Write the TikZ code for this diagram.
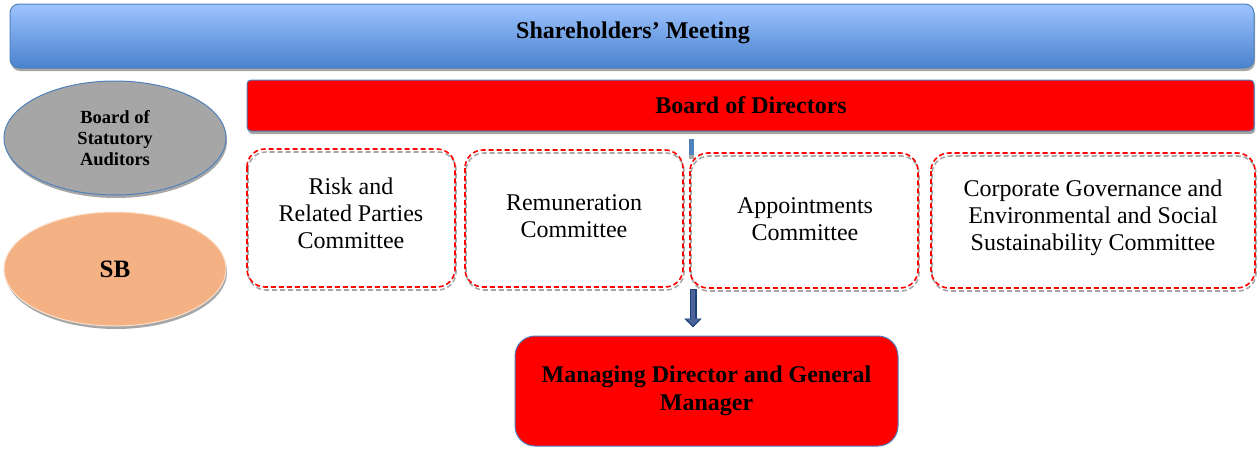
\documentclass[tikz,border=0pt]{standalone}
\usepackage{fontspec}
\setmainfont{Liberation Serif}
\usetikzlibrary{shadows,shapes.geometric,arrows.meta}
\definecolor{topblue}{HTML}{9DC3FF}
\definecolor{botblue}{HTML}{4A82CC}
\definecolor{edgeblue}{HTML}{4F81BD}
\definecolor{auditgray}{HTML}{A6A6A6}
\definecolor{sborange}{HTML}{F4B183}
\definecolor{arrowblue}{HTML}{1F3F7F}
\tikzset{
  shd/.style={drop shadow={shadow xshift=1pt,shadow yshift=-3pt,fill=black!35,opacity=1}},
  topbox/.style={draw=edgeblue,line width=1pt,rounded corners=9pt,top color=topblue,bottom color=botblue,shd},
  redbox/.style={draw=edgeblue,line width=1pt,fill=red,shd},
  oval/.style={ellipse,line width=1pt,shd},
  combox/.style={draw=red,dash pattern=on 5pt off 3pt,line width=1.6pt,rounded corners=18pt},
  comshadow/.style={draw=black!35,dash pattern=on 5pt off 3pt,line width=1.6pt,rounded corners=18pt},
  comtext/.style={align=center,font=\fontsize{24}{27}\selectfont},
  boldtext/.style={align=center,font=\fontsize{24}{28}\selectfont\bfseries},
}
\begin{document}
\begin{tikzpicture}[x=1pt,y=-1pt]
\useasboundingbox (0,0) rectangle (1257,450);
% Shareholders
\path[topbox] (10,4) rectangle (1254,68);
\node[boldtext] (sh) at (633,33) {Shareholders’ Meeting};
% Board of directors
\path[redbox,rounded corners=4pt] (247,80) rectangle (1254,131);
\node[boldtext] (bod) at (751,105) {Board of Directors};
% ellipses
\node[oval,draw=edgeblue,fill=auditgray,minimum width=222pt,minimum height=114pt,
  align=center,font=\fontsize{18.5}{21}\selectfont\bfseries] (bsa) at (115,138) {Board of\\Statutory\\Auditors};
\node[oval,draw=sborange!40,fill=sborange,minimum width=222pt,minimum height=114pt,
  font=\fontsize{25}{26}\selectfont\bfseries] (sb) at (115,269) {SB};
% committees
\draw[comshadow] (248,152) rectangle (456,290);
\draw[combox] (247,149) rectangle (455,287);
\node[comtext] (c1) at (351,213) {Risk and\\Related Parties\\Committee};
\draw[comshadow] (466,153) rectangle (684,290);
\draw[combox] (465,150) rectangle (683,287);
\node[comtext] (c2) at (574,216) {Remuneration\\Committee};
\draw[comshadow] (691,156) rectangle (919,291);
\draw[combox] (690,153) rectangle (918,288);
\node[comtext] (c3) at (805,219) {Appointments\\Committee};
\draw[comshadow] (932,156) rectangle (1256,291);
\draw[combox] (931,153) rectangle (1255,288);
\node[comtext] (c4) at (1093,218) {Corporate Governance and\\Environmental and Social\\Sustainability Committee};
% tick connector
\coordinate (tk1) at (691,139);
\coordinate (tk2) at (691,155);
\draw[line width=5pt,edgeblue] (tk1) -- ([yshift=-4pt]tk2);
\draw[line width=5pt,black!35] ([yshift=-4pt]tk2) -- (tk2);
% Managing director
\node[draw=edgeblue,line width=1pt,fill=red,rounded corners=20pt,minimum width=383pt,minimum height=110pt,
  boldtext] (md) at (706.5,391) {Managing Director and General\\Manager};
% arrow
\coordinate (a1) at (693,289);
\draw[-{Triangle[length=9pt,width=17pt]},line width=7pt,arrowblue] (a1) -- ([yshift=8pt]md.north -| a1);
\draw[-{Triangle[length=7pt,width=13pt]},line width=4pt,arrowblue!80!white] ([yshift=-1pt]a1) -- ([yshift=10pt]md.north -| a1);
\end{tikzpicture}
\end{document}
